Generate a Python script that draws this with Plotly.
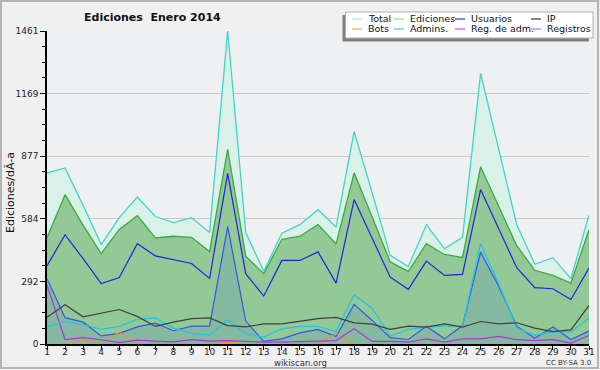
import plotly.graph_objects as go

days = list(range(1, 32))
total = [798, 822, 647, 464, 590, 686, 595, 567, 590, 520, 1461, 520, 340, 517, 557, 627,
         546, 992, 705, 414, 361, 557, 445, 498, 1263, 917, 557, 372, 403, 305, 601]
ediciones = [496, 697, 554, 422, 535, 599, 495, 503, 498, 432, 908, 410, 328, 489, 503, 557,
             467, 799, 593, 383, 339, 468, 418, 404, 827, 640, 459, 344, 320, 284, 534]
usuarios = [365, 510, 398, 282, 310, 468, 411, 394, 376, 306, 796, 328, 224, 390, 390, 430,
            284, 674, 492, 312, 255, 387, 320, 325, 721, 538, 356, 263, 258, 208, 354]
ip = [125, 183, 127, 144, 161, 129, 82, 102, 118, 122, 86, 80, 94, 94, 107, 118,
      124, 99, 93, 68, 83, 79, 94, 79, 105, 94, 99, 74, 58, 66, 180]
bots = [0, 0, 20, 0, 55, 0, 0, 0, 0, 0, 8, 0, 0, 0, 0, 0,
        50, 0, 0, 0, 0, 0, 0, 0, 0, 0, 0, 0, 0, 0, 0]
admins = [80, 105, 91, 68, 82, 115, 122, 74, 50, 40, 113, 48, 32, 71, 82, 82,
          58, 230, 167, 37, 68, 79, 83, 83, 468, 281, 74, 40, 58, 55, 121]
reg_adm = [275, 21, 30, 20, 6, 18, 13, 10, 20, 13, 16, 12, 9, 9, 12, 14,
           16, 71, 12, 12, 9, 24, 9, 24, 24, 36, 20, 16, 20, 4, 40]
registros = [305, 123, 102, 38, 50, 80, 97, 62, 83, 83, 548, 107, 12, 24, 52, 68,
             35, 185, 110, 30, 21, 83, 24, 86, 429, 270, 83, 27, 79, 21, 60]

y_max = 1461
y_tick_vals = [0, 292.2, 584.4, 876.6, 1168.8, 1461]
y_tick_text = ["0", "292", "584", "877", "1169", "1461"]

legend_row1 = ["Total", "Ediciones", "Usuarios", "IP"]
legend_row2 = ["Bots", "Admins.", "Reg. de adm.", "Registros"]

FONT = "DejaVu Sans"
L, R, T, B = 47, 589, 31, 344
W, H = R - L, B - T


def xp(px):
    return (px - L) / W


def yp(py):
    return (B - py) / H


fig = go.Figure()

# filled areas
fig.add_trace(go.Scatter(x=days, y=total, mode="lines", fill="tozeroy",
                         fillcolor="#daf1ea", line=dict(color="#3fd6c6", width=1.3)))
fig.add_trace(go.Scatter(x=days, y=ediciones, mode="lines", fill="tozeroy",
                         fillcolor="#92c996", line=dict(color="#3caa3c", width=1.3)))
fig.add_trace(go.Scatter(x=days, y=registros, mode="lines", fill="tozeroy",
                         fillcolor="rgba(60,100,220,0.15)", line=dict(color="#3355ee", width=1.2)))
# lines
fig.add_trace(go.Scatter(x=days, y=bots, mode="lines", line=dict(color="#f0922a", width=1.1)))
fig.add_trace(go.Scatter(x=days, y=reg_adm, mode="lines", line=dict(color="#b430e0", width=1.2)))
fig.add_trace(go.Scatter(x=days, y=admins, mode="lines", line=dict(color="#22c4e4", width=1.2)))
fig.add_trace(go.Scatter(x=days, y=ip, mode="lines", line=dict(color="#404040", width=1.2)))
fig.add_trace(go.Scatter(x=days, y=usuarios, mode="lines", line=dict(color="#2222dd", width=1.2)))

shapes = []
annotations = []

# outer frame
shapes.append(dict(type="rect", xref="paper", yref="paper",
                   x0=xp(1), x1=xp(598), y0=yp(1), y1=yp(368),
                   line=dict(color="#b4b4b4", width=2), layer="below"))

# legend shadow + box
shapes.append(dict(type="rect", xref="paper", yref="paper",
                   x0=xp(342.5), x1=xp(589), y0=yp(15), y1=yp(41.5),
                   fillcolor="#808080", line=dict(width=0)))
shapes.append(dict(type="rect", xref="paper", yref="paper",
                   x0=xp(345.5), x1=xp(593), y0=yp(12), y1=yp(38),
                   fillcolor="#ffffff", line=dict(color="#b0b0b0", width=1)))

col_x = [366, 408, 469, 545]
row_y = [19, 29]
leg_colors1 = ["#a8e4dc", "#96d296", "#3838d8", "#383838"]
leg_colors2 = ["#f0a848", "#50c8e0", "#c850e8", "#8888f0"]
for row, names, cols in [(0, legend_row1, leg_colors1), (1, legend_row2, leg_colors2)]:
    for i, name in enumerate(names):
        tx = col_x[i]
        ty = row_y[row]
        shapes.append(dict(type="line", xref="paper", yref="paper",
                           x0=xp(tx - 14), x1=xp(tx - 4), y0=yp(ty), y1=yp(ty),
                           line=dict(color=cols[i], width=1.2)))
        annotations.append(dict(text=name, xref="paper", yref="paper",
                                x=xp(tx), y=yp(ty), xanchor="left", yanchor="middle",
                                showarrow=False, font=dict(family=FONT, size=9.5, color="#111")))

# title
annotations.append(dict(text="<b>Ediciones  Enero 2014</b>", xref="paper", yref="paper",
                        x=xp(152), y=yp(17), xanchor="center", yanchor="middle",
                        showarrow=False, font=dict(family=FONT, size=11, color="#111")))
# y title
annotations.append(dict(text="Ediciones/dÃ-a", xref="paper", yref="paper",
                        x=xp(10), y=yp(193), xanchor="center", yanchor="middle", textangle=-90,
                        showarrow=False, font=dict(family=FONT, size=11, color="#111")))
# footer
annotations.append(dict(text="wikiscan.org", xref="paper", yref="paper",
                        x=xp(300), y=yp(362.5), xanchor="center", yanchor="middle",
                        showarrow=False, font=dict(family=FONT, size=8.5, color="#333")))
annotations.append(dict(text="CC BY-SA 3.0", xref="paper", yref="paper",
                        x=xp(568), y=yp(362.5), xanchor="center", yanchor="middle",
                        showarrow=False, font=dict(family=FONT, size=7, color="#333")))

fig.update_layout(
    width=600, height=370, autosize=False,
    margin=dict(l=L, r=600 - R, t=T, b=370 - B, pad=0, autoexpand=False),
    paper_bgcolor="#f0f0f0", plot_bgcolor="#eef0f2",
    showlegend=False,
    shapes=shapes, annotations=annotations,
    font=dict(family=FONT, size=9, color="#222"),
)
fig.update_xaxes(range=[1, 31], tickvals=days, ticktext=[str(d) for d in days],
                 showgrid=False, zeroline=False, showline=True, linecolor="#000", linewidth=1.5,
                 ticks="outside", ticklen=4, tickcolor="#000", tickfont=dict(size=9, color="#222"),
                 ticklabelstandoff=-6,
                 fixedrange=True, automargin=False)
fig.update_yaxes(range=[0, y_max], tickvals=y_tick_vals, ticktext=y_tick_text,
                 showgrid=True, gridcolor="#c8c8c8", gridwidth=1, zeroline=False,
                 showline=True, linecolor="#000", linewidth=1.5,
                 ticks="outside", ticklen=5, tickcolor="#000", tickfont=dict(size=9, color="#222"),
                 minor=dict(tick0=0, dtick=y_max / 20, ticks="outside", ticklen=3, tickcolor="#000",
                            showgrid=False),
                 fixedrange=True, automargin=False)

fig.write_html("out.html", config={"displayModeBar": False},
               post_script="document.body.style.margin='0px';document.body.style.overflow='hidden';")
